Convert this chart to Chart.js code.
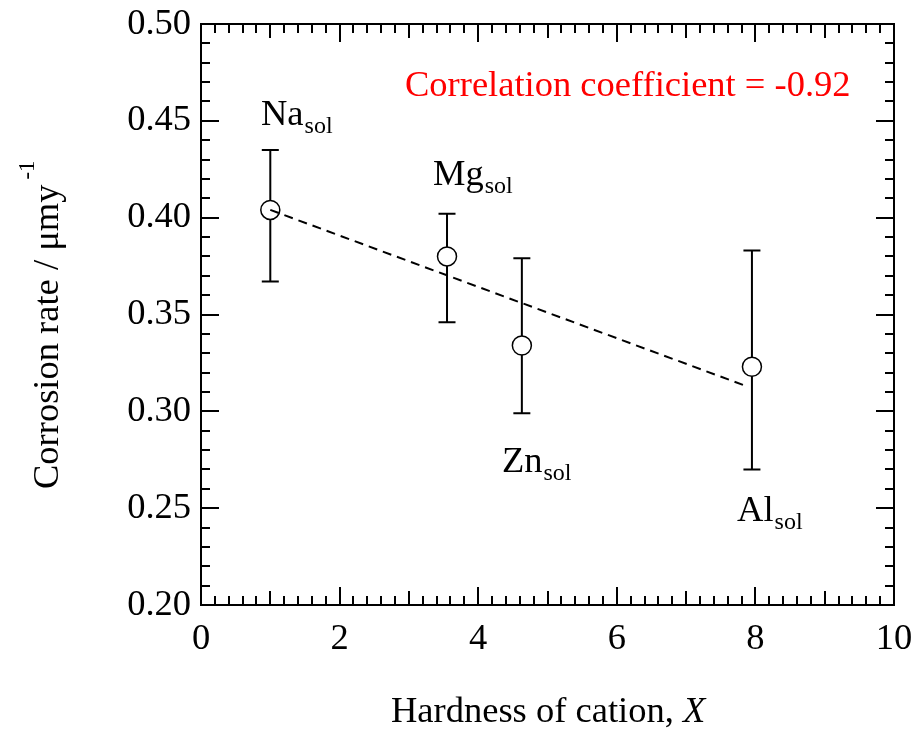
<!DOCTYPE html>
<html>
<head>
<meta charset="utf-8">
<script src="https://cdn.jsdelivr.net/npm/chart.js@4.4.1/dist/chart.umd.min.js"></script>
<style>
html,body{margin:0;padding:0;background:#fff;}
#wrap{width:919px;height:734px;}
</style>
</head>
<body>
<div id="wrap"><canvas id="c" width="919" height="734"></canvas></div>
<script>
// ---- data ----
const cations = ['Na', 'Mg', 'Zn', 'Al'];
const hardness = [1.0, 3.55, 4.63, 7.95];
const corrosionRate = [0.404, 0.380, 0.334, 0.323];
const errHigh = [0.435, 0.402, 0.379, 0.383];
const errLow = [0.367, 0.346, 0.299, 0.270];
const fitX = [1.0, 7.9];
const fitY = [0.404, 0.3126];
const xTickLabels = ['0', '2', '4', '6', '8', '10'];
const yTickLabels = ['0.20', '0.25', '0.30', '0.35', '0.40', '0.45', '0.50'];
const correlationText = 'Correlation coefficient = -0.92';
const subscript = 'sol';
// label anchors in data units (left, baseline)
const labelX = [0.866, 3.348, 4.343, 7.735];
const labelY = [0.4478, 0.4169, 0.2687, 0.2434];
const corrAnchor = {x: 2.944, y: 0.4628};

const FONT = '"Liberation Serif", "Times New Roman", serif';
const MAIN = 36.5, SUB = 24;

const scatterData = hardness.map((x, i) => ({x: x, y: corrosionRate[i]}));
const fitData = fitX.map((x, i) => ({x: x, y: fitY[i]}));

const errorBars = {
  id: 'errorBars',
  beforeDatasetsDraw(chart) {
    const ctx = chart.ctx, xs = chart.scales.x, ys = chart.scales.y;
    ctx.save();
    ctx.strokeStyle = '#000';
    ctx.lineWidth = 2;
    const cap = 8.5;
    for (let i = 0; i < hardness.length; i++) {
      const px = xs.getPixelForValue(hardness[i]);
      const top = ys.getPixelForValue(errHigh[i]);
      const bot = ys.getPixelForValue(errLow[i]);
      ctx.beginPath();
      ctx.moveTo(px, top); ctx.lineTo(px, bot);
      ctx.moveTo(px - cap, top); ctx.lineTo(px + cap, top);
      ctx.moveTo(px - cap, bot); ctx.lineTo(px + cap, bot);
      ctx.stroke();
    }
    ctx.restore();
  }
};

const frameAndText = {
  id: 'frameAndText',
  afterDraw(chart) {
    const ctx = chart.ctx, a = chart.chartArea, xs = chart.scales.x, ys = chart.scales.y;
    ctx.save();
    ctx.strokeStyle = '#000';
    ctx.lineWidth = 2;
    // inward ticks
    ctx.beginPath();
    for (let k = 0; k <= 50; k++) {
      const v = k * 0.2;
      const px = Math.round(xs.getPixelForValue(v));
      let len = 9;
      if (k % 10 === 0) len = 18; else if (k % 5 === 0) len = 14;
      ctx.moveTo(px, a.bottom); ctx.lineTo(px, a.bottom - len);
      ctx.moveTo(px, a.top); ctx.lineTo(px, a.top + len);
    }
    for (let k = 0; k <= 30; k++) {
      const v = 0.2 + k * 0.01;
      const py = Math.round(ys.getPixelForValue(v));
      const len = (k % 5 === 0) ? 18 : 9;
      ctx.moveTo(a.left, py); ctx.lineTo(a.left + len, py);
      ctx.moveTo(a.right, py); ctx.lineTo(a.right - len, py);
    }
    ctx.stroke();
    // frame
    ctx.strokeRect(a.left, a.top, a.right - a.left, a.bottom - a.top);

    // point labels
    ctx.fillStyle = '#000';
    ctx.textBaseline = 'alphabetic';
    ctx.textAlign = 'left';
    for (let i = 0; i < cations.length; i++) {
      const px = xs.getPixelForValue(labelX[i]);
      const py = ys.getPixelForValue(labelY[i]);
      ctx.font = MAIN + 'px ' + FONT;
      ctx.fillText(cations[i], px, py);
      const w = ctx.measureText(cations[i]).width;
      ctx.font = SUB + 'px ' + FONT;
      ctx.fillText(subscript, px + w + 1, py + 8);
    }
    // correlation
    ctx.fillStyle = '#ff0000';
    ctx.font = MAIN + 'px ' + FONT;
    ctx.fillText(correlationText, xs.getPixelForValue(corrAnchor.x), ys.getPixelForValue(corrAnchor.y));

    // x title
    ctx.fillStyle = '#000';
    const t1 = 'Hardness of cation, ';
    const t2 = 'X';
    ctx.font = MAIN + 'px ' + FONT;
    const w1 = ctx.measureText(t1).width;
    const x0 = 391;
    ctx.fillText(t1, x0, 722);
    ctx.font = 'italic ' + MAIN + 'px ' + FONT;
    ctx.fillText(t2, x0 + w1, 722);

    // y title
    const yt = 'Corrosion rate / \u03bcmy';
    const ys2 = '-1';
    ctx.font = MAIN + 'px ' + FONT;
    const wy1 = ctx.measureText(yt).width;
    ctx.save();
    ctx.translate(58, 489);
    ctx.rotate(-Math.PI / 2);
    ctx.font = MAIN + 'px ' + FONT;
    ctx.fillText(yt, 0, 0);
    ctx.font = '23px ' + FONT;
    ctx.fillText(ys2, wy1 + 5, -24);
    ctx.restore();

    ctx.restore();
  }
};

new Chart(document.getElementById('c'), {
  type: 'scatter',
  data: {
    datasets: [
      {
        type: 'line',
        data: fitData,
        borderColor: '#000',
        borderWidth: 2,
        borderDash: [9, 6],
        pointRadius: 0,
        fill: false,
        order: 0
      },
      {
        data: scatterData,
        pointRadius: 9.5,
        pointBorderWidth: 1.5,
        pointBackgroundColor: '#fff',
        pointBorderColor: '#000',
        order: 1
      }
    ]
  },
  options: {
    responsive: false,
    animation: false,
    devicePixelRatio: 1,
    layout: {padding: {top: 24, right: 25, left: 0, bottom: 0}},
    plugins: {legend: {display: false}, tooltip: {enabled: false}},
    scales: {
      x: {
        type: 'linear', min: 0, max: 10,
        grid: {display: false, drawTicks: false},
        border: {display: false},
        ticks: {
          stepSize: 2,
          padding: 13,
          color: '#000',
          font: {family: FONT, size: MAIN},
          maxRotation: 0,
          callback: (v) => xTickLabels[Math.round(v / 2)]
        },
        afterFit: (s) => { s.height = 129; s.paddingLeft = 0; s.paddingRight = 0; }
      },
      y: {
        type: 'linear', min: 0.2, max: 0.5,
        grid: {display: false, drawTicks: false},
        border: {display: false},
        ticks: {
          stepSize: 0.05,
          padding: 10,
          color: '#000',
          font: {family: FONT, size: MAIN},
          callback: (v) => yTickLabels[Math.round((v - 0.2) / 0.05)]
        },
        afterFit: (s) => { s.width = 201; s.paddingTop = 0; s.paddingBottom = 0; }
      }
    }
  },
  plugins: [errorBars, frameAndText]
});
</script>
</body>
</html>
